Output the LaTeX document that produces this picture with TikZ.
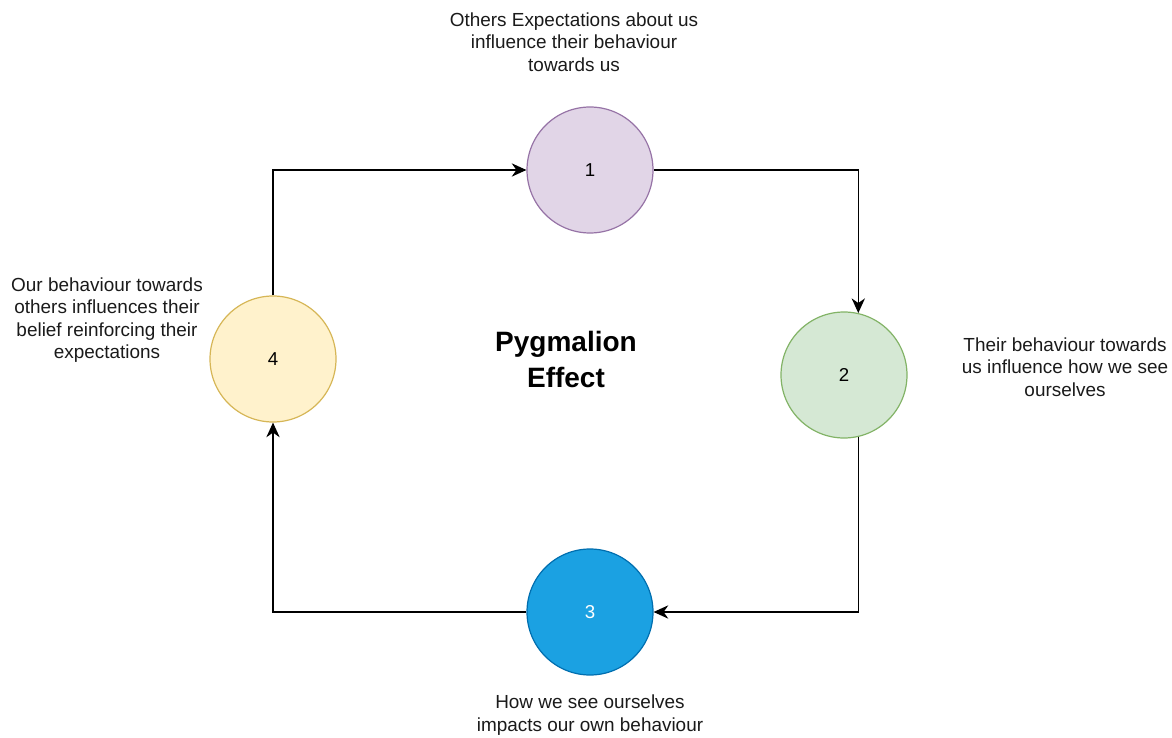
\documentclass[tikz,border=0pt]{standalone}
\usepackage{fontspec}
\setmainfont{Liberation Sans}
\usetikzlibrary{arrows.meta}
\definecolor{pfill}{HTML}{E1D5E7}\definecolor{pdraw}{HTML}{9673A6}
\definecolor{gfill}{HTML}{D5E8D4}\definecolor{gdraw}{HTML}{82B366}
\definecolor{bfill}{HTML}{1BA1E2}\definecolor{bdraw}{HTML}{006EAF}
\definecolor{yfill}{HTML}{FFF2CC}\definecolor{ydraw}{HTML}{D6B656}
\definecolor{txt}{HTML}{1A1A1A}
\tikzset{
  stage/.style={circle, inner sep=0pt, minimum size=94.5pt, line width=0.9pt, font=\fontsize{14}{16}\selectfont},
  caption/.style={align=center, text=txt, font=\fontsize{14.2}{16.8}\selectfont, inner sep=0pt},
  arr/.style={draw=black, line width=1pt, -{Stealth[length=11pt, width=10pt, inset=3.5pt]}},
}
\begin{document}
\begin{tikzpicture}[x=0.75pt, y=-0.75pt]
\useasboundingbox (0,0) rectangle (1172,738);
\node[stage, fill=pfill, draw=pdraw] (n1) at (590,170) {1};
\node[stage, fill=gfill, draw=gdraw] (n2) at (844,375) {2};
\node[stage, fill=bfill, draw=bdraw, text=white] (n3) at (590,612) {3};
\node[stage, fill=yfill, draw=ydraw] (n4) at (273,359) {4};

\draw[arr] (n4.north) |- (n1.west);
\draw[arr] (n1.east) -| (n2.77);
\draw[arr] (n2.283) |- (n3.east);
\draw[arr] (n3.west) -| (n4.south);

\node[caption] (t1) at (574,42) {Others Expectations about us\\influence their behaviour\\towards us};
\node[caption] (t2) at (1065,367) {Their behaviour towards\\us influence how we see\\ourselves};
\node[caption] (t3) at (590,715) {How we see ourselves\\impacts our own behaviour};
\node[caption] (t4) at (107,320) {Our behaviour towards\\others influences their\\belief reinforcing their\\expectations};
\node[align=center, inner sep=0pt, font=\bfseries\fontsize{21}{27}\selectfont] (title) at (566,359) {Pygmalion\\Effect};
\end{tikzpicture}
\end{document}
